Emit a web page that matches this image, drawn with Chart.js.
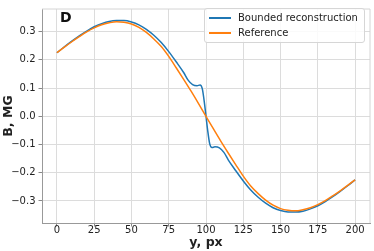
<!DOCTYPE html>
<html>
<head>
<meta charset="utf-8">
<script src="https://cdn.jsdelivr.net/npm/chart.js@4"></script>
<style>
  body { margin: 0; background: #fff; }
  #wrap { position: relative; width: 374px; height: 251px; }
  #panel { position: absolute; left: 60px; top: 9px; font: bold 14px "DejaVu Sans"; color: #111; }
  #legend { position: absolute; left: 204px; top: 8px; width: 159px; height: 33px;
    background: rgba(255,255,255,0.85); border: 1px solid #d6d6d6; border-radius: 3px;
    font: 10px "DejaVu Sans"; color: #222; }
  .row { position: absolute; left: 0; height: 14px; }
  .swatch { position: absolute; left: 4px; width: 22px; height: 2px; top: 6px; }
  .label { position: absolute; left: 33px; top: 0; white-space: nowrap; line-height: 14px; }
</style>
</head>
<body>
<div id="wrap">
  <canvas id="myChart" width="374" height="251"></canvas>
  <div id="panel">D</div>
  <div id="legend">
    <div class="row" style="top:2px"><span class="swatch" style="background:#1f77b4"></span><span class="label">Bounded reconstruction</span></div>
    <div class="row" style="top:17px"><span class="swatch" style="background:#ff7f0e"></span><span class="label">Reference</span></div>
  </div>
</div>
<script>
// values
const refX = [0, 5, 10, 15, 20, 25, 30, 35, 40, 45, 50, 55, 60, 65, 70, 75, 80, 85, 90, 95, 100,
  105, 110, 115, 120, 125, 130, 135, 140, 145, 150, 155, 160, 165, 170, 175, 180, 185, 190, 195, 200];
const refB = [0.225, 0.245, 0.264, 0.282, 0.299, 0.313, 0.324, 0.331, 0.335, 0.333, 0.327, 0.315, 0.297, 0.274, 0.247, 0.212, 0.172, 0.131, 0.089, 0.045, 0.000,
  -0.045, -0.089, -0.131, -0.172, -0.212, -0.247, -0.274, -0.297, -0.315, -0.327, -0.333, -0.335, -0.331, -0.324, -0.313, -0.299, -0.282, -0.264, -0.245, -0.225];

const recX = [0, 5, 10, 15, 20, 25, 30, 35, 40, 45, 50, 55, 60, 65, 70, 75, 80, 85, 88, 91, 94, 96, 97.5, 99, 100,
  101, 102.5, 104, 106, 109, 112, 115, 120, 125, 130, 135, 140, 145, 150, 155, 160, 165, 170, 175, 180, 185, 190, 195, 200];
const recB = [0.225, 0.246, 0.266, 0.285, 0.302, 0.317, 0.328, 0.336, 0.339, 0.339, 0.334, 0.324, 0.308, 0.287, 0.261, 0.229, 0.193, 0.155, 0.128, 0.112, 0.108, 0.111, 0.098, 0.045, 0.000,
  -0.045, -0.098, -0.111, -0.108, -0.112, -0.128, -0.155, -0.193, -0.229, -0.261, -0.287, -0.308, -0.324, -0.334, -0.339, -0.339, -0.336, -0.328, -0.317, -0.302, -0.285, -0.266, -0.246, -0.225];

const xTicks = [0, 25, 50, 75, 100, 125, 150, 175, 200];
const yTicks = [-0.3, -0.2, -0.1, 0.0, 0.1, 0.2, 0.3];
const yTickLabels = ['\u22120.3', '\u22120.2', '\u22120.1', '0.0', '0.1', '0.2', '0.3'];

const toPoints = (xs, ys) => xs.map((x, i) => ({x: x, y: ys[i]}));

// light frame on top and right, like the matplotlib box
const frame = {
  id: 'frame',
  afterDraw(chart) {
    const a = chart.chartArea, c = chart.ctx;
    c.save();
    c.strokeStyle = '#d4d4d4';
    c.lineWidth = 1;
    c.beginPath();
    c.moveTo(a.left, a.top); c.lineTo(a.right, a.top); c.lineTo(a.right, a.bottom);
    c.stroke();
    c.restore();
  }
};

const tickFont = {family: 'DejaVu Sans', size: 10};
const titleFont = {family: 'DejaVu Sans', size: 12.5, weight: 'bold'};

new Chart(document.getElementById('myChart').getContext('2d'), {
  type: 'line',
  data: {
    datasets: [
      {label: 'Bounded reconstruction', data: toPoints(recX, recB), borderColor: '#1f77b4',
        borderWidth: 1.5, pointRadius: 0, cubicInterpolationMode: 'monotone', order: 1},
      {label: 'Reference', data: toPoints(refX, refB), borderColor: '#ff7f0e',
        borderWidth: 1.5, pointRadius: 0, cubicInterpolationMode: 'monotone', order: 0}
    ]
  },
  options: {
    responsive: false,
    animation: false,
    layout: {padding: {top: 3.5, right: 4, left: 0, bottom: 0}},
    plugins: {legend: {display: false}, tooltip: {enabled: false}},
    scales: {
      x: {
        type: 'linear', min: -10, max: 210,
        afterBuildTicks: s => { s.ticks = xTicks.map(v => ({value: v})); },
        afterFit: s => { s.height = 28; },
        grid: {color: '#dcdcdc', tickLength: 3.5, tickColor: '#888'},
        border: {color: '#999'},
        ticks: {font: tickFont, color: '#222', padding: -2, maxRotation: 0},
        title: {display: true, text: 'y, px', font: titleFont, color: '#222', padding: {top: 0, bottom: 1}}
      },
      y: {
        min: -0.378, max: 0.38,
        afterBuildTicks: s => { s.ticks = yTicks.map(v => ({value: v})); },
        afterFit: s => { s.width = 42; },
        grid: {color: '#dcdcdc', tickLength: 3.5, tickColor: '#888'},
        border: {color: '#999'},
        ticks: {font: tickFont, color: '#222', padding: 3,
          callback: (v, i) => yTickLabels[i]},
        title: {display: true, text: 'B, MG', font: titleFont, color: '#222', padding: {top: 1, bottom: 0}}
      }
    }
  },
  plugins: [frame]
});
</script>
</body>
</html>
